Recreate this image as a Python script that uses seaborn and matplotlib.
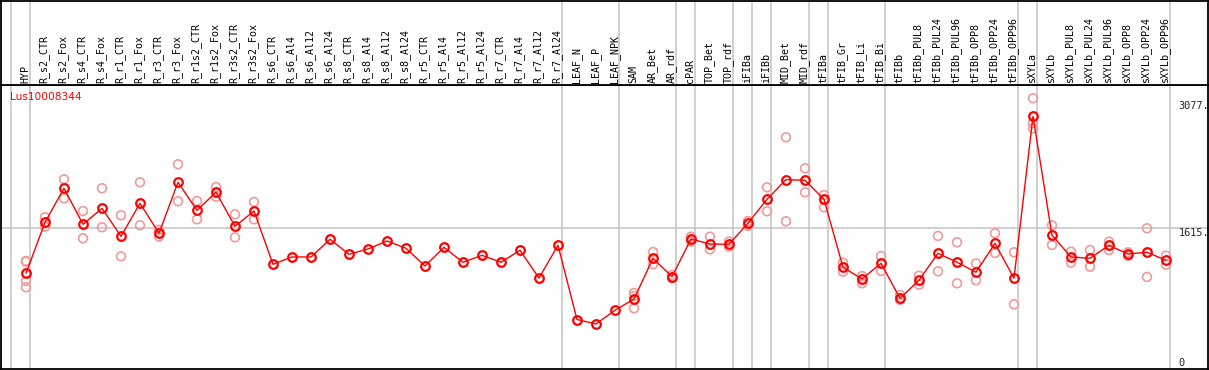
import matplotlib
matplotlib.use('Agg')
import matplotlib.pyplot as plt
import numpy as np
import pandas as pd
import seaborn as sns

gene_name = 'Lus10008344'

sample_labels = [
    'HYP', 'R_s2_CTR', 'R_s2_Fox', 'R_s4_CTR', 'R_s4_Fox', 'R_r1_CTR', 'R_r1_Fox',
    'R_r3_CTR', 'R_r3_Fox', 'R_r1s2_CTR', 'R_r1s2_Fox', 'R_r3s2_CTR', 'R_r3s2_Fox',
    'R_s6_CTR', 'R_s6_Al4', 'R_s6_Al12', 'R_s6_Al24', 'R_s8_CTR', 'R_s8_Al4',
    'R_s8_Al12', 'R_s8_Al24', 'R_r5_CTR', 'R_r5_Al4', 'R_r5_Al12', 'R_r5_Al24',
    'R_r7_CTR', 'R_r7_Al4', 'R_r7_Al12', 'R_r7_Al24', 'LEAF_N', 'LEAF_P', 'LEAF_NPK',
    'SAM', 'AR_Bet', 'AR_rdf', 'cPAR', 'TOP_Bet', 'TOP_rdf', 'iFIBa', 'iFIBb',
    'MID_Bet', 'MID_rdf', 'tFIBa', 'tFIB_Gr', 'tFIB_Li', 'tFIB_Bi', 'tFIBb',
    'tFIBb_PUL8', 'tFIBb_PUL24', 'tFIBb_PUL96', 'tFIBb_OPP8', 'tFIBb_OPP24',
    'tFIBb_OPP96', 'sXYLa', 'sXYLb', 'sXYLb_PUL8', 'sXYLb_PUL24', 'sXYLb_PUL96',
    'sXYLb_OPP8', 'sXYLb_OPP24', 'sXYLb_OPP96',
]

mean_values = [
    1090, 1677, 2069, 1654, 1838, 1516, 1896, 1551, 2138, 1815, 2023, 1631, 1807,
    1194, 1278, 1278, 1482, 1309, 1370, 1462, 1378, 1174, 1389, 1217, 1297, 1217,
    1355, 1036, 1412, 558, 507, 664,
    794, 1263, 1051, 1485, 1427, 1424, 1666, 1942, 2168, 2161, 1942, 1159, 1025,
    1205, 802, 1010, 1320, 1217, 1102, 1435, 1033, 2897, 1528, 1278, 1263, 1412,
    1312, 1332, 1240,
]

replicate_values = [
    [1232, 1224, 1002, 929], [1735, 1627], [2172, 1953], [1807, 1493], [2069, 1620],
    [1758, 1286], [2138, 1643], [1589, 1512], [2345, 1919], [1922, 1712],
    [2084, 1972], [1769, 1504], [1911, 1712],
    [], [], [], [], [], [], [], [], [], [], [], [], [], [], [], [], [], [], [],
    [863, 687, 829], [1335, 1194], [1071, 1036], [1512, 1455], [1512, 1366],
    [1455, 1397], [1692, 1635], [2080, 1804], [2656, 1689], [2299, 2023],
    [1991, 1850, 1934], [1212, 1109], [975, 1059], [1289, 1117], [840, 783],
    [1062, 959], [1520, 1113], [1447, 975], [1205, 1010], [1551, 1324],
    [1332, 733], [3105, 2817, 2759], [1643, 1416], [1339, 1212], [1358, 1166],
    [1455, 1358], [1332, 1289], [1608, 1048], [1293, 1189],
]

# last sample of each group (separators drawn just right of it)
group_ends = [-1, 0, 28, 31, 34, 35, 37, 38, 39, 41, 42, 45, 52, 53, 60]

axis_labels = [(3077, '3077.'), (1615, '1615.'), (0, '0')]

sns.set_style('white')
plt.rcParams['font.family'] = ['DejaVu Sans Mono', 'DejaVu Sans']

pos = np.arange(len(sample_labels))
means = pd.DataFrame({'pos': pos, 'value': mean_values})
reps = pd.DataFrame([(i, v) for i, vals in enumerate(replicate_values) for v in vals],
                    columns=['pos', 'value'])

W, H = 1209, 370
fig = plt.figure(figsize=(W / 100, H / 100), dpi=100)
ax = fig.add_axes([1 / W, 1 / H, 1207 / W, 284 / H])
hdr = fig.add_axes([1 / W, 285 / H, 1207 / W, 84.5 / H], sharex=ax)

grid_col = '#c4c4c4'
seps = [g + 0.21 for g in group_ends]
for a in (ax, hdr):
    for s in seps:
        a.axvline(s, color=grid_col, lw=1.1, zorder=0)
    for sp in a.spines.values():
        sp.set_color('black')
        sp.set_linewidth(1.3)
    a.set_xticks([])
    a.set_yticks([])
    a.set_xlabel('')
    a.set_ylabel('')

ax.axhline(1615, color=grid_col, lw=1.1, zorder=0)

sns.scatterplot(data=reps, x='pos', y='value', ax=ax, marker='o', s=40,
                facecolors='none', edgecolors='#f09a9a', linewidths=1.2, zorder=2)
sns.lineplot(data=means, x='pos', y='value', ax=ax, color='red', lw=1,
             marker='o', markersize=6.2, markerfacecolor='none',
             markeredgecolor='red', markeredgewidth=1.6, zorder=3)
ax.set_xlabel('')
ax.set_ylabel('')

ax.set_xlim(-26 / 19 + 1 / 19, (1208 - 26) / 19)
ax.set_ylim(-11.5, 3257.7)
hdr.set_ylim(0, 1)

for i, lab in enumerate(sample_labels):
    hdr.text(i - 0.05, 0.025, lab, rotation=90, ha='center', va='bottom',
             fontsize=7.2, color='black')

ax.text(0.0075, 0.958, gene_name, transform=ax.transAxes, color='red',
        fontsize=7.6, family='DejaVu Sans', va='center', ha='left')

for val, txt in axis_labels:
    ax.text(0.9755, val, txt, transform=ax.get_yaxis_transform(),
            va='bottom' if val == 0 else 'top', ha='left', fontsize=7.4)

fig.savefig('out.png', dpi=100)
